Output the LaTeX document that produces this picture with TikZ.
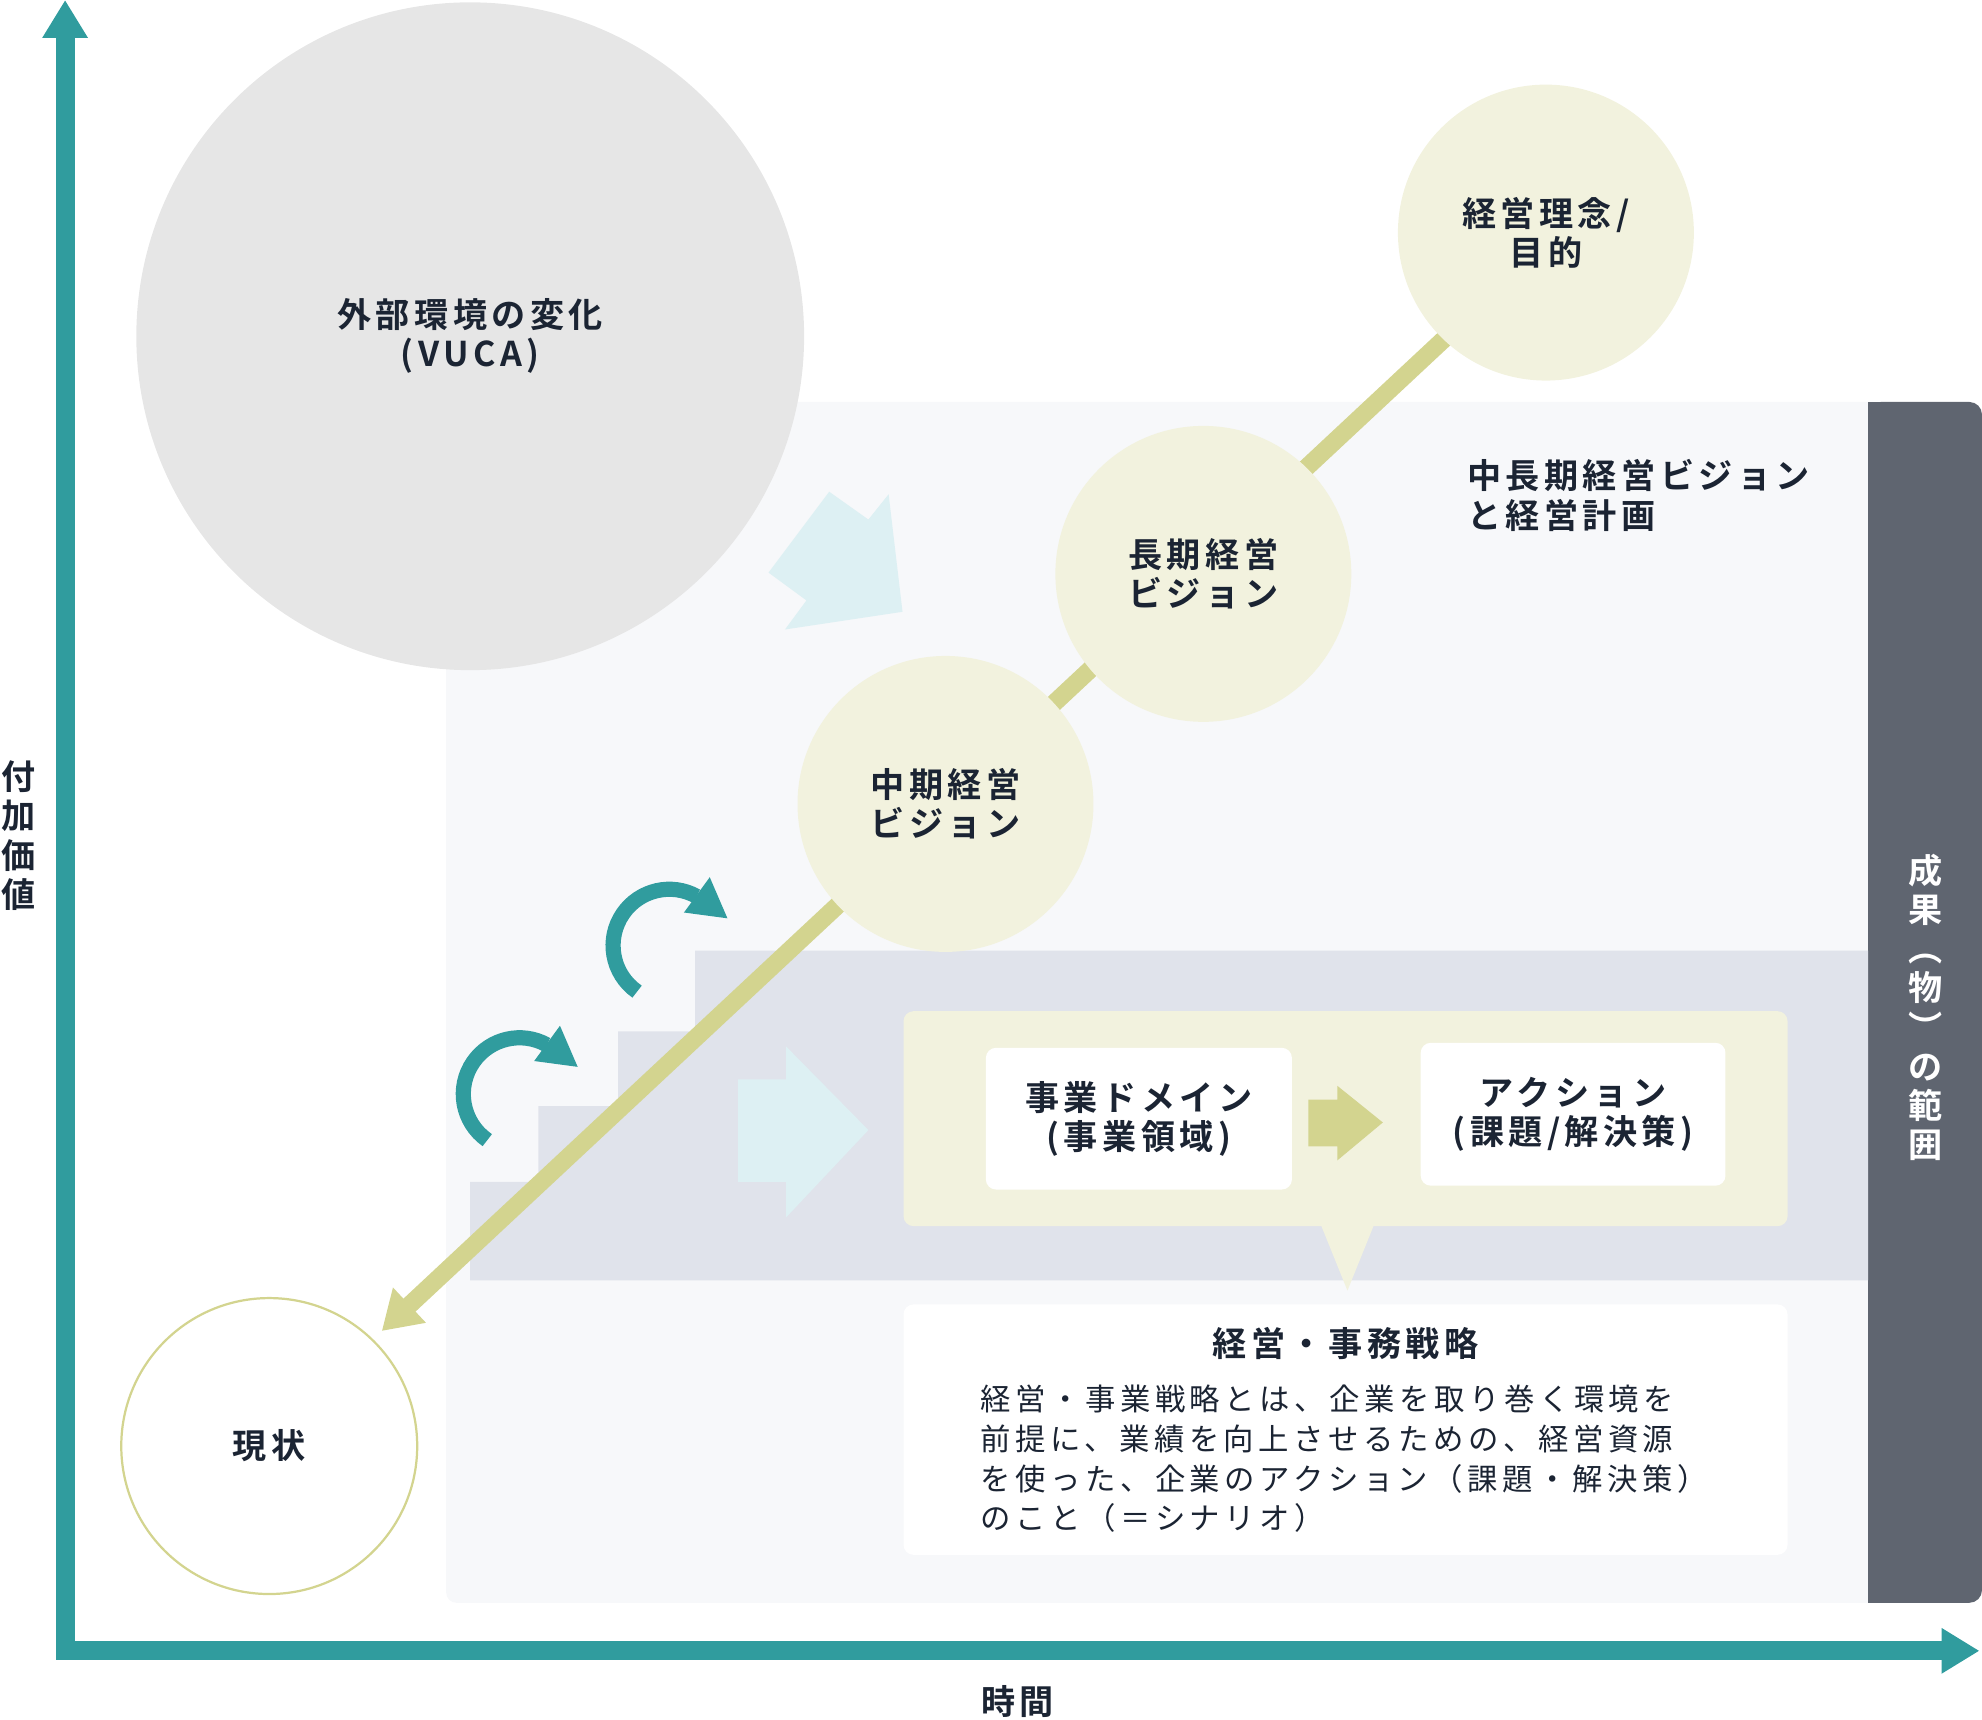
\documentclass[tikz,border=0pt]{standalone}
\usepackage{fontspec}
\setmainfont{Noto Sans CJK JP}
\newfontfamily\lblfont{Noto Sans CJK JP Bold}[LetterSpace=13]
\newfontfamily\txtfont{Noto Sans CJK JP}[LetterSpace=15]
\usepackage{xcolor}
\usetikzlibrary{arrows.meta,positioning}

\definecolor{axis}{HTML}{309C9E}
\definecolor{vuca}{HTML}{E6E6E6}
\definecolor{panel}{HTML}{F7F8FA}
\definecolor{bar}{HTML}{5F6570}
\definecolor{stepfill}{HTML}{E0E3EB}
\definecolor{ice}{HTML}{DDF0F3}
\definecolor{oliveline}{HTML}{D3D48F}
\definecolor{cream}{HTML}{F2F2DE}
\definecolor{ink}{HTML}{1B2433}

\tikzset{
  lbl/.style={font=\lblfont\fontsize{7.68pt}{8.82pt}\selectfont, text=ink, inner sep=0pt},
  txt/.style={font=\txtfont\fontsize{6.83pt}{8.93pt}\selectfont, text=ink, inner sep=0pt},
  bubble/.style={circle, fill=cream, minimum size=2.34cm, lbl, align=center},
  card/.style={fill=white, rounded corners=0.08cm, lbl, align=center},
}

\begin{document}
\begin{tikzpicture}[x=0.01cm, y=-0.01cm]
    \useasboundingbox (0,0) rectangle (1568,1360);

    % panel and result bar
    \fill[panel, rounded corners=0.08cm] (353,318) rectangle (1490,1268);
    \fill[bar, rounded corners=0.1cm] (1478,318) rectangle (1568,1268);
    \fill[bar] (1478,318) rectangle (1530,1268);

    % steps
    \fill[stepfill] (372,1013) -- (372,935) -- (426,935) -- (426,875) -- (489,875) -- (489,816) -- (550,816) -- (550,752) -- (1478,752) -- (1478,1013) -- cycle;

    \node[circle, fill=vuca, minimum size=5.28cm, lbl, align=center] (vuca) at (372,266) {外部環境の変化\\(VUCA)};

    \fill[ice] (608,453) -- (656,389) -- (687,411) -- (703,391) -- (714,484) -- (621,498) -- (638,475) -- cycle;
    \fill[ice] (584,854) -- (622,854) -- (622,828) -- (687,894) -- (622,963) -- (622,935) -- (584,935) -- cycle;

    % turning arrows
    \draw[axis, line width=0.12cm] (385.5,902) arc[start angle=235, end angle=61, radius=0.445cm];
    \fill[axis] (443,811.5) -- (457,844) -- (422.6,839.4) -- cycle;
    \draw[axis, line width=0.12cm] (504,784.5) arc[start angle=235, end angle=61, radius=0.445cm];
    \fill[axis] (561.5,694) -- (575.5,726.5) -- (541.1,721.9) -- cycle;

    \coordinate (top) at (1223,193);
    \coordinate (now) at (302,1053);
    \draw[oliveline, line width=0.14cm, -{Triangle[length=0.30cm,width=0.36cm]}] (top) -- (now);

    \node[bubble] (rinen) at (1223,184) {経営理念/\\目的};
    \node[bubble] (choki) at (952,454) {長期経営\\ビジョン};
    \node[bubble] (chuki) at (748,636) {中期経営\\ビジョン};
    \node[bubble, fill=white, draw=oliveline, line width=0.5pt] (genjo) at (213,1144) {現状};

    \node[lbl, align=left, anchor=west] (plan) at (1160,392) {中長期経営ビジョン\\と経営計画};

    % strategy box
    \node[fill=cream, rounded corners=0.08cm, minimum width=6.99cm, minimum height=1.70cm] (stratbox) at (1064.5,885) {};
    \fill[cream] (1045,969) -- (1087,969) -- (1066,1021) -- cycle;
    \node[card, minimum width=2.42cm, minimum height=1.12cm] (domain) at (901,885) {事業ドメイン\\(事業領域)};
    \node[card, minimum width=2.41cm, minimum height=1.13cm] (action) at (1244.5,881.5) {アクション\\(課題/解決策)};
    \fill[oliveline] (1035,870) -- (1058,870) -- (1058,859) -- (1094,888) -- (1058,918) -- (1058,907) -- (1035,907) -- cycle;

    \node[fill=white, rounded corners=0.08cm, minimum width=6.99cm, minimum height=1.98cm] (summary) at (1064.5,1131) {};
    \node[lbl, below=0.18cm of summary.north] (title) {経営・事務戦略};
    \node[txt, align=left, anchor=north west] (body) at (775,1095) {経営・事業戦略とは、企業を取り巻く環境を\\前提に、業績を向上させるための、経営資源\\を使った、企業のアクション（課題・解決策）\\のこと（＝シナリオ）};

    \node[lbl, text=white, align=center] (seika) at (1523,797) {成\\果\\︵\\物\\︶\\の\\範\\囲};

    % axes
    \coordinate (ytip) at (51.5,0);
    \coordinate (origin) at (51.5,1306);
    \coordinate (xtip) at (1566,1306);
    \draw[axis, line width=0.15cm, {Triangle[length=0.30cm,width=0.34cm]}-{Triangle[length=0.30cm,width=0.34cm]}] (ytip) -- (origin) -- (xtip);
    \node[lbl, align=center] (fuka) at (15,661) {付\\加\\価\\値};
    \node[lbl] (jikan) at (805,1346) {時間};
\end{tikzpicture}
\end{document}
